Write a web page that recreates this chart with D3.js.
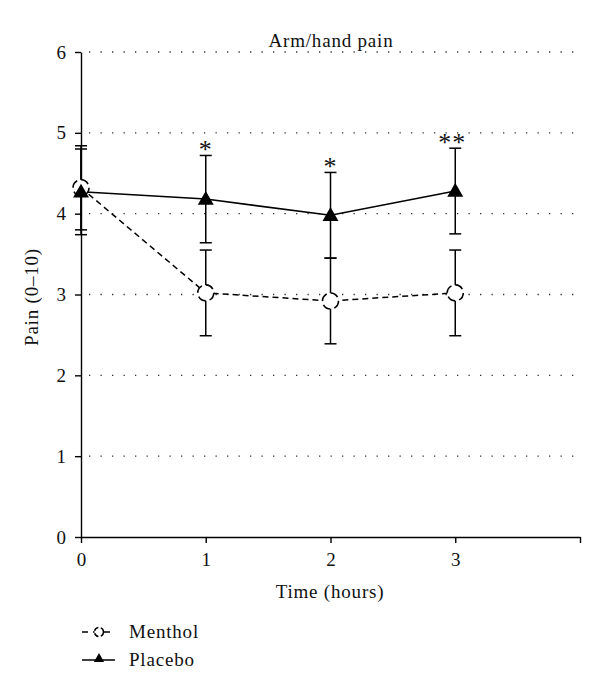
<!DOCTYPE html>
<html>
<head>
<meta charset="utf-8">
<script src="https://cdn.jsdelivr.net/npm/d3@7"></script>
<style>
html,body{margin:0;padding:0;background:#fff;}
svg{display:block;font-family:"Liberation Serif","Times New Roman",serif;}
</style>
</head>
<body>
<svg id="chart" width="600" height="693"></svg>
<script>
const times = [0, 1, 2, 3];
const mentholMean = [4.32, 3.02, 2.92, 3.02];
const mentholErr = [0.52, 0.53, 0.53, 0.53];
const placeboMean = [4.27, 4.18, 3.98, 4.28];
const placeboErr = [0.53, 0.54, 0.53, 0.53];
const significance = ["", "*", "*", "**"];
const yTicks = [0, 1, 2, 3, 4, 5, 6];
const xTicks = [0, 1, 2, 3, 4];
const xTickLabels = ["0", "1", "2", "3", ""];

const FONT = '"Liberation Serif","Times New Roman",serif';
const FS = 19;
const LS = "0.8px";

const svg = d3.select("#chart");
const x = d3.scaleLinear().domain([0, 4]).range([81, 580]);
const y = d3.scaleLinear().domain([0, 6]).range([537, 52]);

// grid
svg.append("g").selectAll("line").data(yTicks.filter(d => d > 0)).join("line")
  .attr("x1", x(0) + 8).attr("x2", x(4)).attr("y1", d => y(d)).attr("y2", d => y(d))
  .attr("stroke", "#333").attr("stroke-width", 1.3).attr("stroke-dasharray", "1.3,10.2");

// axes
const yAxis = d3.axisLeft(y).tickValues(yTicks).tickFormat(d3.format("d")).tickSize(6).tickSizeOuter(0).tickPadding(9);
const gy = svg.append("g").attr("transform", `translate(${x(0)},0)`).call(yAxis);
const xAxis = d3.axisBottom(x).tickValues(xTicks).tickFormat((d, i) => xTickLabels[i]).tickSize(6).tickSizeOuter(0).tickPadding(7);
const gx = svg.append("g").attr("transform", `translate(0,${y(0)})`).call(xAxis);
[gx, gy].forEach(g => {
  g.attr("font-size", FS).attr("font-family", FONT);
  g.select(".domain").attr("stroke", "#000").attr("stroke-width", 1.4);
  g.selectAll(".tick line").attr("stroke", "#000").attr("stroke-width", 1.4);
  g.selectAll(".tick text").attr("font-size", FS).attr("fill", "#111").attr("font-family", FONT);
});
gx.selectAll(".tick text").attr("dy", "0.85em");

// error bars
function errorBars(means, errs) {
  const g = svg.append("g");
  const data = times.map((t, i) => ({t, m: means[i], e: errs[i]}));
  g.selectAll("line.v").data(data).join("line")
    .attr("x1", d => x(d.t)).attr("x2", d => x(d.t))
    .attr("y1", d => y(d.m + d.e)).attr("y2", d => y(d.m - d.e))
    .attr("stroke", "#000").attr("stroke-width", 1.5);
  ["top", "bot"].forEach(k => {
    g.selectAll("line." + k).data(data).join("line")
      .attr("x1", d => x(d.t) - 6).attr("x2", d => x(d.t) + 6)
      .attr("y1", d => y(k === "top" ? d.m + d.e : d.m - d.e))
      .attr("y2", d => y(k === "top" ? d.m + d.e : d.m - d.e))
      .attr("stroke", "#000").attr("stroke-width", 1.5);
  });
}
errorBars(mentholMean, mentholErr);
errorBars(placeboMean, placeboErr);

const line = d3.line().x((d, i) => x(times[i])).y(d => y(d));
svg.append("path").datum(mentholMean).attr("d", line).attr("fill", "none")
  .attr("stroke", "#000").attr("stroke-width", 1.5).attr("stroke-dasharray", "6,4");
svg.append("path").datum(placeboMean).attr("d", line).attr("fill", "none")
  .attr("stroke", "#000").attr("stroke-width", 1.5);

const tri = d3.symbol().type(d3.symbolTriangle).size(110);
const circR = 8;
svg.append("g").selectAll("circle").data(mentholMean).join("circle")
  .attr("cx", (d, i) => x(times[i])).attr("cy", d => y(d)).attr("r", circR)
  .attr("fill", "#fff").attr("stroke", "#000").attr("stroke-width", 1.6)
  .attr("stroke-dasharray", "8.5,4");
svg.append("g").selectAll("path").data(placeboMean).join("path")
  .attr("d", tri).attr("transform", (d, i) => `translate(${x(times[i])},${y(d) + 1})`)
  .attr("fill", "#000");

// significance
svg.append("g").selectAll("text").data(significance).join("text")
  .attr("x", (d, i) => x(times[i]) - (d.length > 1 ? 3 : 0))
  .attr("y", (d, i) => y(placeboMean[i] + placeboErr[i]) + 3)
  .attr("text-anchor", "middle").attr("font-size", 26).attr("letter-spacing", "1px").attr("fill", "#111")
  .attr("font-family", FONT)
  .text(d => d);

// title and labels
svg.append("text").attr("x", 331).attr("y", 47).attr("text-anchor", "middle")
  .attr("font-size", FS).attr("letter-spacing", LS).attr("fill", "#111").text("Arm/hand pain");
svg.append("text").attr("x", 330).attr("y", 598).attr("text-anchor", "middle")
  .attr("font-size", FS).attr("letter-spacing", LS).attr("fill", "#111").text("Time (hours)");
svg.append("text").attr("transform", "translate(38,297) rotate(-90)").attr("text-anchor", "middle")
  .attr("font-size", FS).attr("letter-spacing", LS).attr("fill", "#111").text("Pain (0–10)");

// legend
const leg = svg.append("g");
leg.append("line").attr("x1", 82).attr("x2", 115).attr("y1", 632).attr("y2", 632)
  .attr("stroke", "#000").attr("stroke-width", 1.5).attr("stroke-dasharray", "6,5");
leg.append("circle").attr("cx", 99).attr("cy", 632).attr("r", 4.5).attr("fill", "#fff")
  .attr("stroke", "#000").attr("stroke-width", 1.5).attr("stroke-dasharray", "5,2.5");
leg.append("text").attr("x", 129).attr("y", 638).attr("font-size", FS).attr("letter-spacing", LS).attr("fill", "#111").text("Menthol");
leg.append("line").attr("x1", 82).attr("x2", 115).attr("y1", 660).attr("y2", 660)
  .attr("stroke", "#000").attr("stroke-width", 1.5);
leg.append("path").attr("d", d3.symbol().type(d3.symbolTriangle).size(45)).attr("transform", "translate(99,659)").attr("fill", "#000");
leg.append("text").attr("x", 129).attr("y", 666).attr("font-size", FS).attr("letter-spacing", LS).attr("fill", "#111").text("Placebo");
</script>
</body>
</html>
